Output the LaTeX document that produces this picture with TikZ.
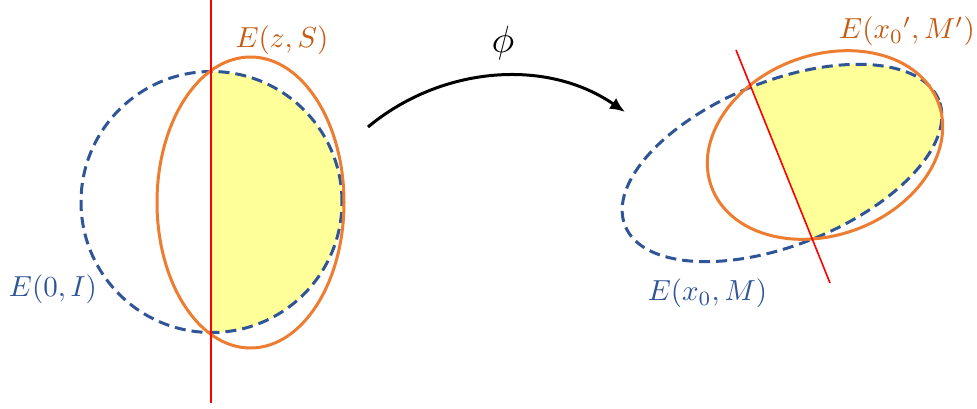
\documentclass[tikz,border=0pt]{standalone}
\usetikzlibrary{arrows.meta}
\definecolor{ellorange}{HTML}{ED7D31}
\definecolor{txtorange}{HTML}{C55A11}
\definecolor{ellblue}{HTML}{2F5597}
\definecolor{fillyellow}{HTML}{FFFF99}
\tikzset{
  orangeell/.style={draw=ellorange,line width=3pt},
  blueell/.style={draw=ellblue,line width=3pt,dash pattern=on 11pt off 6pt},
  cutline/.style={draw=red,line width=1.6pt},
  orangelabel/.style={text=txtorange,font=\fontsize{10}{12}\selectfont,scale=2.9,inner sep=0pt},
  bluelabel/.style={text=ellblue,font=\fontsize{10}{12}\selectfont,scale=2.9,inner sep=0pt},
  maparrow/.style={line width=3pt,-{Latex[length=15pt,width=13pt]}}
}
\begin{document}
\begin{tikzpicture}[x=1pt,y=1pt]
\useasboundingbox (0,0) rectangle (977,409);
% ---------- left ----------
\coordinate (c0) at (211.5,207);
\coordinate (cz) at (250.5,206.5);
\fill[fillyellow] (211.5,337.5) arc[start angle=90,end angle=-90,radius=130.5] -- cycle;
\draw[blueell] (c0) circle[radius=130.5];
\draw[orangeell] (cz) ellipse[x radius=93.5,y radius=145.5];
\coordinate (lt) at (211,409);
\coordinate (lb) at (211,6);
\draw[cutline] (lt) -- (lb);
\node[orangelabel] (lzs) at (282,369) {$E(z,S)$};
\node[bluelabel] (l0i) at (53,119.5) {$E(0,I)$};
% ---------- arrow ----------
\coordinate (as) at (368,282);
\coordinate (ae) at (625,297);
\draw[maparrow] (as) .. controls (440,342) and (545,352) .. (ae);
\node[font=\fontsize{10}{12}\selectfont,scale=3.8,inner sep=0pt] (phi) at (503,366) {$\phi$};
% ---------- right ----------
\begin{scope}
\clip (689,475) -- (877,9) -- (990,9) -- (990,475) -- cycle;
\fill[fillyellow] (782,246) ellipse[x radius=169,y radius=82,rotate=21.8];
\end{scope}
\draw[blueell,rotate around={21.8:(782,246)}] (782,246) ellipse[x radius=169,y radius=82];
\draw[orangeell,rotate around={20.4:(825,264)}] (825,264) ellipse[x radius=121,y radius=90];
\coordinate (rt) at (736,359);
\coordinate (rb) at (830,126);
\draw[cutline] (rt) -- (rb);
\node[orangelabel] (lxm2) at (907,377.5) {$E(x_0{}',M')$};
\node[bluelabel] (lxm) at (707.5,115.5) {$E(x_0,M)$};
\end{tikzpicture}
\end{document}
